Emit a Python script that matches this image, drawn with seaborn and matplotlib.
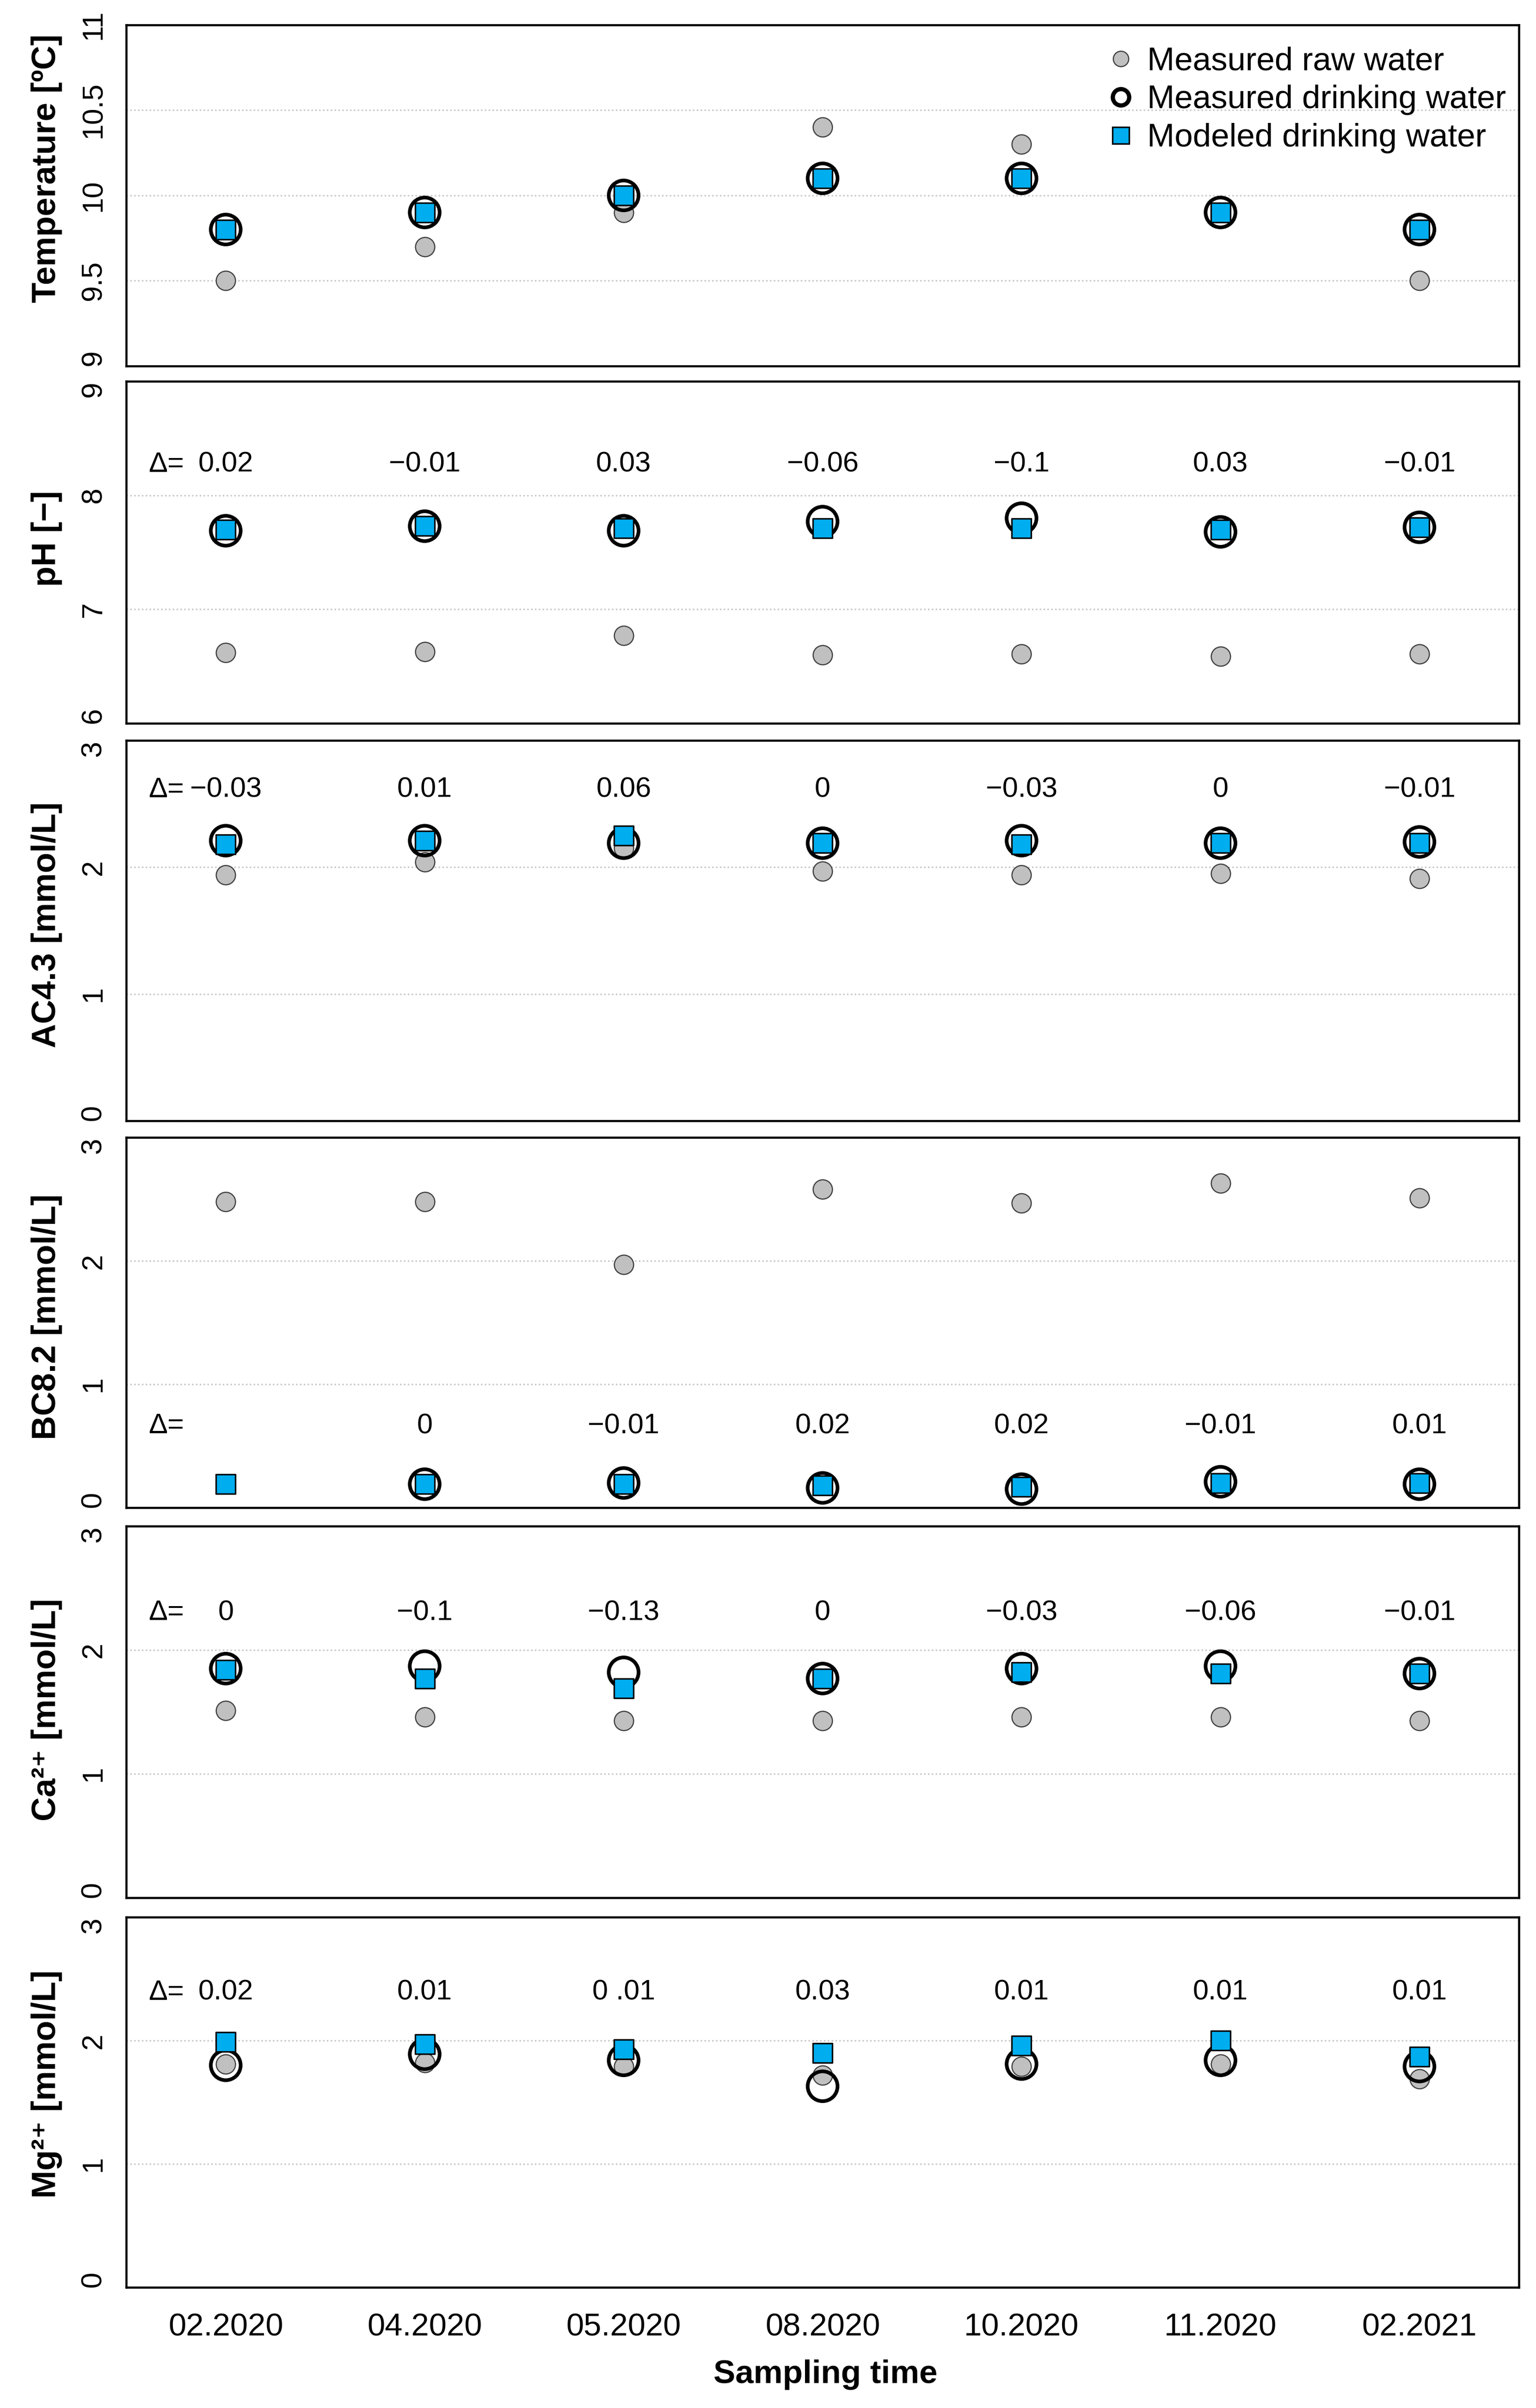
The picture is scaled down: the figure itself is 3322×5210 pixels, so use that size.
import numpy as np
import seaborn as sns
import matplotlib.pyplot as plt
from matplotlib.lines import Line2D

# Dates d'échantillonnage
dates = ['02.2020', '04.2020', '05.2020', '08.2020', '10.2020', '11.2020', '02.2021']

# Température [ºC]
temp_raw = [9.5, 9.7, 9.9, 10.4, 10.3, 9.9, 9.5]
temp_drink = [9.8, 9.9, 10.0, 10.1, 10.1, 9.9, 9.8]
temp_model = [9.8, 9.9, 10.0, 10.1, 10.1, 9.9, 9.8]

# pH
ph_raw = [6.62, 6.63, 6.77, 6.60, 6.61, 6.59, 6.61]
ph_drink = [7.69, 7.73, 7.69, 7.77, 7.80, 7.68, 7.72]
ph_model = [7.70, 7.73, 7.71, 7.71, 7.71, 7.70, 7.72]
ph_delta = ['0.02', '\u22120.01', '0.03', '\u22120.06', '\u22120.1', '0.03', '\u22120.01']

# AC4.3 [mmol/L]
ac_raw = [1.94, 2.04, 2.15, 1.97, 1.94, 1.95, 1.91]
ac_drink = [2.21, 2.21, 2.19, 2.19, 2.21, 2.19, 2.20]
ac_model = [2.18, 2.21, 2.25, 2.19, 2.18, 2.19, 2.19]
ac_delta = ['\u22120.03', '0.01', '0.06', '0', '\u22120.03', '0', '\u22120.01']

# BC8.2 [mmol/L]
bc_raw = [2.48, 2.48, 1.97, 2.58, 2.47, 2.63, 2.51]
bc_drink = [np.nan, 0.19, 0.20, 0.16, 0.15, 0.21, 0.19]
bc_model = [0.19, 0.19, 0.19, 0.18, 0.17, 0.20, 0.20]
bc_delta = ['', '0', '\u22120.01', '0.02', '0.02', '\u22120.01', '0.01']

# Ca2+ [mmol/L]
ca_raw = [1.51, 1.46, 1.43, 1.43, 1.46, 1.46, 1.43]
ca_drink = [1.85, 1.87, 1.82, 1.77, 1.85, 1.87, 1.81]
ca_model = [1.84, 1.77, 1.69, 1.77, 1.82, 1.81, 1.81]
ca_delta = ['0', '\u22120.1', '\u22120.13', '0', '\u22120.03', '\u22120.06', '\u22120.01']

# Mg2+ [mmol/L]
mg_raw = [1.81, 1.82, 1.79, 1.72, 1.79, 1.81, 1.69]
mg_drink = [1.80, 1.89, 1.84, 1.63, 1.81, 1.84, 1.79]
mg_model = [1.99, 1.97, 1.93, 1.90, 1.96, 2.00, 1.87]
mg_delta = ['0.02', '0.01', '0 .01', '0.03', '0.01', '0.01', '0.01']

# Style
sns.set_style("white")
plt.rcParams['font.family'] = ['Liberation Sans', 'DejaVu Sans']
plt.rcParams.update({
    'axes.linewidth': 1.1,
    'axes.edgecolor': 'black',
    'text.color': 'black',
    'axes.labelcolor': 'black',
    'xtick.labelcolor': 'black',
    'ytick.labelcolor': 'black',
})

RAW_COL = '#c0c0c0'
BLUE = '#00aeef'

fig = plt.figure(figsize=(3322 / 300, 5210 / 300), dpi=300)

left, width = 0.0822, 0.9067
# (bas, hauteur) de chaque panneau
rects = [(0.8480, 0.1417), (0.6996, 0.1420), (0.5345, 0.1580),
         (0.3739, 0.1537), (0.2119, 0.1543), (0.0501, 0.1537)]

panels = [
    dict(raw=temp_raw, drink=temp_drink, model=temp_model, ylim=(9, 11),
         yticks=[9, 9.5, 10, 10.5, 11], ylabel='Temperature [\u00baC]', ly=0.579,
         delta=None, dy=None),
    dict(raw=ph_raw, drink=ph_drink, model=ph_model, ylim=(6, 9),
         yticks=[6, 7, 8, 9], ylabel='pH [\u2212]', ly=0.541, delta=ph_delta, dy=8.27),
    dict(raw=ac_raw, drink=ac_drink, model=ac_model, ylim=(0, 3),
         yticks=[0, 1, 2, 3], ylabel='AC4.3 [mmol/L]', ly=0.515, delta=ac_delta, dy=2.61),
    dict(raw=bc_raw, drink=bc_drink, model=bc_model, ylim=(0, 3),
         yticks=[0, 1, 2, 3], ylabel='BC8.2 [mmol/L]', ly=0.516, delta=bc_delta, dy=0.66),
    dict(raw=ca_raw, drink=ca_drink, model=ca_model, ylim=(0, 3),
         yticks=[0, 1, 2, 3], ylabel='Ca\u00b2\u207a [mmol/L]', ly=0.506, delta=ca_delta, dy=2.30),
    dict(raw=mg_raw, drink=mg_drink, model=mg_model, ylim=(0, 3),
         yticks=[0, 1, 2, 3], ylabel='Mg\u00b2\u207a [mmol/L]', ly=0.549, delta=mg_delta, dy=2.39),
]

idx = np.arange(len(dates))
axes = []
for k, (p, (b, h)) in enumerate(zip(panels, rects)):
    ax = fig.add_axes([left, b, width, h])
    axes.append(ax)

    # Eau brute mesurée
    sns.scatterplot(x=idx, y=p['raw'], ax=ax, marker='o', s=100, color=RAW_COL,
                    edgecolor='#404040', linewidth=0.6, zorder=3, legend=False)
    # Eau potable mesurée (cercle vide)
    sns.scatterplot(x=idx, y=p['drink'], ax=ax, marker='o', s=240, color='black',
                    linewidth=1.9, zorder=4, legend=False)
    ring = ax.collections[-1]
    ring.set_facecolor('none')
    ring.set_edgecolor('black')
    # Eau potable modélisée
    sns.scatterplot(x=idx, y=p['model'], ax=ax, marker='s', s=100, color=BLUE,
                    edgecolor='black', linewidth=0.8, zorder=5, legend=False)

    ax.set_xlim(-0.5, len(dates) - 0.5)
    ax.set_ylim(*p['ylim'])
    ax.set_yticks(p['yticks'])
    ax.set_yticklabels(['%g' % t for t in p['yticks']])
    ax.tick_params(axis='y', direction='out', length=5, width=0.8, color='#999999',
                   pad=5, labelsize=15, labelrotation=90)
    ylabs = ax.get_yticklabels()
    for lab in ylabs:
        lab.set_va('center')
    # les étiquettes extrêmes restent dans le panneau
    ylabs[0].set_va('bottom')
    if k > 0:
        ylabs[-1].set_va('top')

    ax.set_xticks(idx)
    ax.set_xticks(idx[:-1] + 0.5, minor=True)
    ax.tick_params(axis='x', which='major', length=0, pad=13, labelsize=16.5)
    ax.tick_params(axis='x', which='minor', direction='in', length=4.5, width=0.8,
                   color='#999999')
    if k == len(panels) - 1:
        ax.set_xticklabels(dates)
        ax.set_xlabel('Sampling time', fontsize=17, fontweight='bold', labelpad=10)
        ax.xaxis.set_label_coords(0.502, -0.195)
    else:
        ax.set_xticklabels([])
        ax.set_xlabel('')

    ax.yaxis.grid(True, linestyle=(0, (1, 1.5)), color='#c8c8c8', linewidth=0.8)
    ax.set_axisbelow(True)
    for sp in ax.spines.values():
        sp.set_visible(True)
        sp.set_color('black')

    ax.set_ylabel(p['ylabel'], fontsize=17.4, fontweight='bold')
    ax.yaxis.set_label_coords(-0.046, p['ly'])

    # Écarts modèle - mesure
    if p['delta'] is not None:
        ax.text(-0.3, p['dy'], '\u0394=', ha='center', va='center', fontsize=14.7)
        for i, d in enumerate(p['delta']):
            ax.text(idx[i], p['dy'], d, ha='center', va='center', fontsize=14.7)

# Légende
handles = [
    Line2D([], [], linestyle='none', marker='o', markersize=8, markerfacecolor=RAW_COL,
           markeredgecolor='#404040', markeredgewidth=0.6),
    Line2D([], [], linestyle='none', marker='o', markersize=8.5, markerfacecolor='none',
           markeredgecolor='black', markeredgewidth=2.2),
    Line2D([], [], linestyle='none', marker='s', markersize=8.5, markerfacecolor=BLUE,
           markeredgecolor='black', markeredgewidth=0.8),
]
axes[0].legend(handles, ['Measured raw water', 'Measured drinking water',
                         'Modeled drinking water'],
               loc='upper right', bbox_to_anchor=(1.0, 0.975), frameon=False, fontsize=17,
               handlelength=0.8, handletextpad=0.4, borderpad=0.2, borderaxespad=0.2,
               labelspacing=0.24)

plt.savefig('out.png', dpi=300)
